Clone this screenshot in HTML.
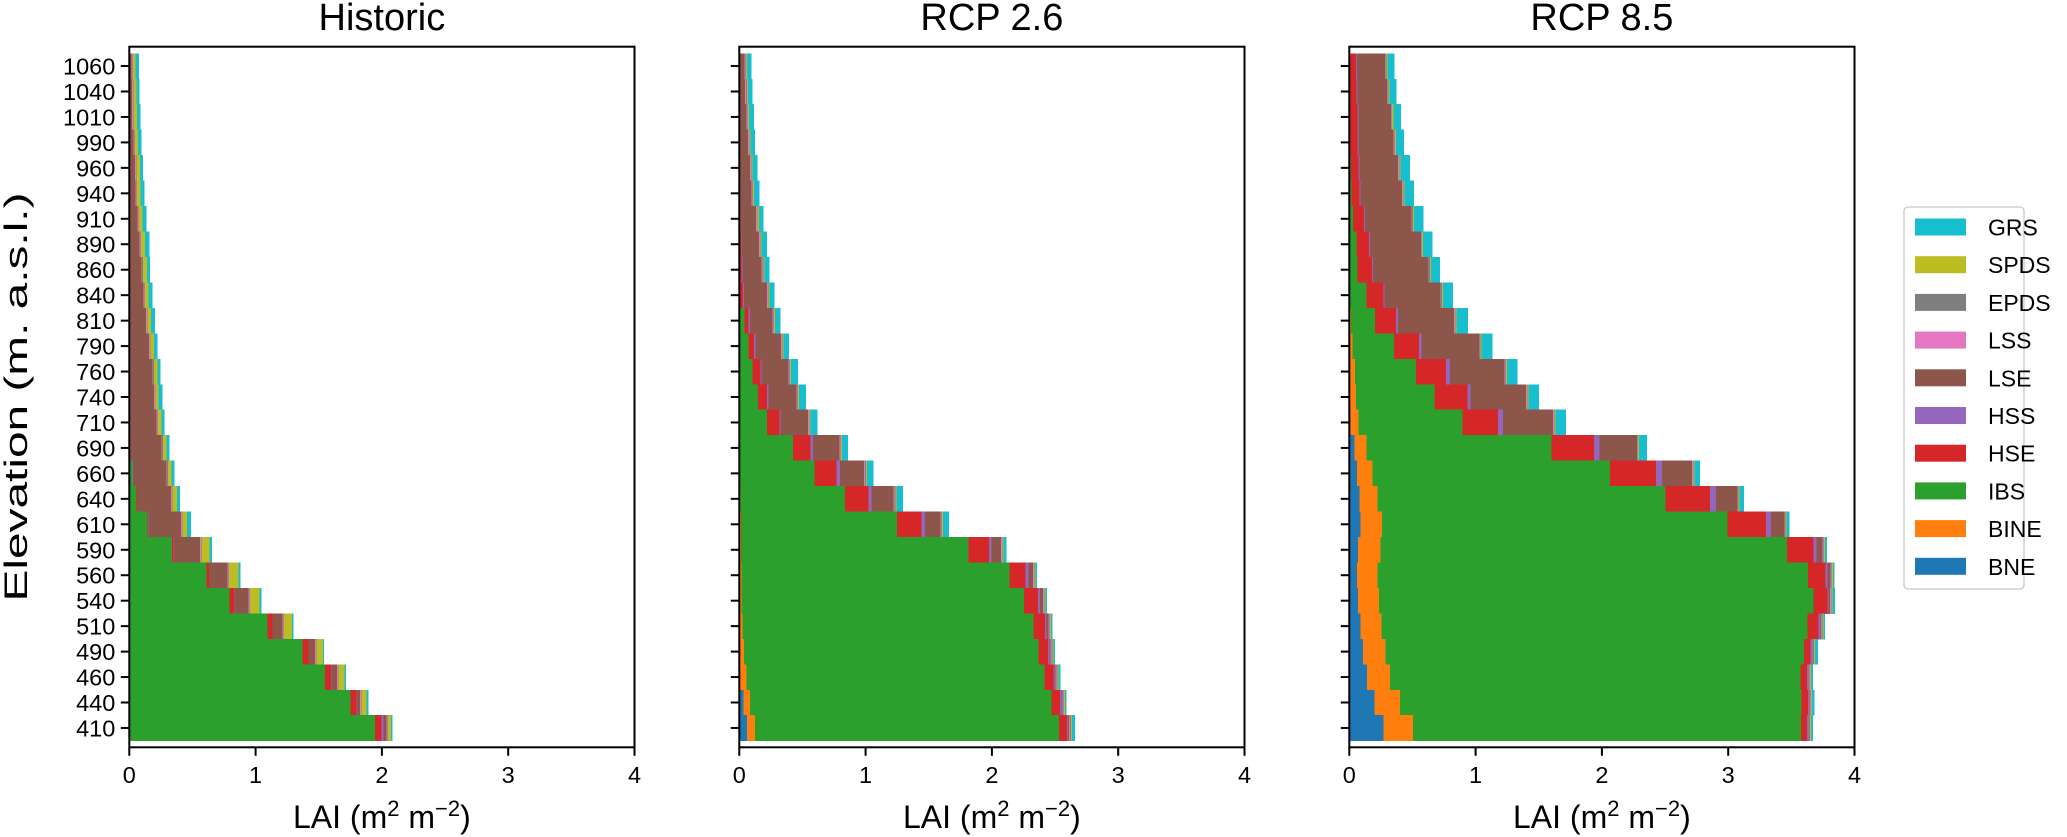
<!DOCTYPE html>
<html><head><meta charset="utf-8"><title>LAI by elevation</title>
<style>
html,body{margin:0;padding:0;background:#fff;}
svg{display:block;font-family:"Liberation Sans","DejaVu Sans",sans-serif;}
</style></head>
<body>
<svg id="chart" width="2067" height="837" viewBox="0 0 2067 837" xmlns="http://www.w3.org/2000/svg">
<text x="0" y="0" transform="translate(27,397) rotate(-90)" text-anchor="middle" font-size="32" textLength="409" lengthAdjust="spacingAndGlyphs">Elevation (m. a.s.l.)</text>
<g id="panels"></g>
<g id="legend"></g>
</svg>
<script>
const elevations = ["1060","1040","1010","990","960","940","910","890","860","840","810","790","760","740","710","690","660","640","610","590","560","540","510","490","460","440","410"];
const xTicks = [0,1,2,3,4];
const seriesNames = ["BNE","BINE","IBS","HSE","HSS","LSE","LSS","EPDS","SPDS","GRS"];
const seriesColors = ["#1f77b4","#ff7f0e","#2ca02c","#d62728","#9467bd","#8c564b","#e377c2","#7f7f7f","#bcbd22","#17becf"];
const panelTitles = ["Historic","RCP 2.6","RCP 8.5"];

// Historic
const H_BNE = [0,0,0,0,0,0,0,0,0,0,0,0,0,0,0,0,0,0,0,0,0,0,0,0,0,0,0];
const H_BINE = [0,0,0,0,0,0,0,0,0,0,0,0,0,0,0,0,0,0,0,0,0,0,0,0,0,0,0];
const H_IBS = [0,0,0,0,0,0,0,0,0,0,0,0,0,0,0,.005,.024,.058,.145,.34,.612,.792,1.095,1.372,1.549,1.752,1.945];
const H_HSE = [.002,.002,.002,.002,.002,.002,.002,.002,.002,.002,.002,.002,.002,.002,.002,.002,.002,.005,.005,.011,.018,.04,.037,.045,.047,.047,.053];
const H_HSS = [.003,.003,.003,.003,.003,.003,.003,.003,.003,.003,.003,.003,.003,.003,.003,.003,.003,.003,.003,.003,.003,.003,.003,.003,.003,.003,.016];
const H_LSE = [.013,.018,.018,.029,.04,.045,.061,.077,.09,.108,.127,.15,.177,.19,.211,.243,.264,.264,.256,.206,.145,.108,.079,.05,.045,.026,.024];
const H_LSS = [.007,.007,.007,.007,.007,.007,.007,.007,.007,.007,.007,.007,.007,.007,.007,.007,.007,.007,.007,.007,.007,.007,.007,.007,.007,.007,.007];
const H_EPDS = [.005,.005,.005,.005,.005,.005,.005,.005,.005,.005,.005,.005,.005,.005,.005,.005,.005,.005,.005,.005,.005,.005,.005,.005,.005,.005,.005];
const H_SPDS = [.021,.021,.024,.021,.026,.026,.026,.032,.032,.026,.026,.029,.029,.026,.026,.029,.029,.037,.037,.063,.074,.074,.061,.05,.047,.04,.024];
const H_GRS = [.026,.026,.029,.029,.026,.032,.032,.032,.026,.034,.032,.029,.026,.029,.026,.026,.024,.024,.032,.021,.018,.018,.013,.008,.011,.013,.011];

// RCP 2.6
const R26_BNE = [0,0,0,0,0,0,0,0,0,0,0,0,0,0,0,0,0,0,0,0,0,0,0,0,.005,.032,.061];
const R26_BINE = [0,0,0,0,0,0,0,0,0,0,0,0,0,0,0,.003,.005,.008,.013,.013,.016,.018,.024,.037,.053,.053,.063];
const R26_IBS = [0,0,0,0,0,0,0,0,0,.005,.04,.071,.103,.148,.219,.422,.591,.829,1.235,1.8,2.124,2.237,2.306,2.33,2.359,2.388,2.406];
const R26_HSE = [.003,.003,.003,.003,.003,.003,.011,.013,.016,.026,.032,.047,.063,.071,.098,.137,.174,.185,.195,.164,.127,.111,.09,.079,.069,.066,.063];
const R26_HSS = [.003,.003,.003,.003,.003,.005,.003,.005,.008,.008,.011,.011,.011,.011,.011,.021,.026,.026,.026,.021,.021,.013,.011,.011,.011,.011,.011];
const R26_LSE = [.034,.04,.05,.061,.077,.087,.119,.137,.153,.18,.179,.2,.211,.222,.216,.211,.193,.174,.124,.074,.037,.026,.016,.008,.008,.008,.008];
const R26_LSS = [.008,.008,.008,.008,.008,.008,.008,.008,.008,.008,.008,.008,.008,.008,.008,.008,.008,.008,.008,.008,.008,.008,.008,.008,.008,.008,.008];
const R26_EPDS = [.005,.005,.005,.005,.005,.005,.005,.005,.005,.005,.005,.005,.005,.005,.005,.005,.005,.005,.005,.005,.005,.005,.005,.005,.005,.005,.005];
const R26_SPDS = [.008,.008,.008,.008,.008,.008,.008,.008,.008,.008,.008,.008,.008,.008,.008,.008,.008,.008,.008,.008,.008,.008,.008,.008,.008,.008,.008];
const R26_GRS = [.034,.037,.04,.037,.042,.042,.037,.045,.04,.04,.045,.042,.055,.055,.053,.045,.053,.053,.045,.024,.013,.011,.013,.013,.016,.013,.024];

// RCP 8.5
const R85_BNE = [0,0,0,0,0,0,0,0,0,0,0,0,.003,.005,.008,.04,.06,.08,.09,.07,.06,.07,.09,.11,.14,.2,.27];
const R85_BINE = [0,0,0,0,0,0,0,0,0,.005,.013,.024,.042,.05,.063,.097,.124,.145,.168,.176,.163,.166,.163,.176,.184,.203,.234];
const R85_IBS = [0,0,0,.005,.013,.018,.029,.058,.066,.132,.192,.329,.482,.621,.826,1.463,1.882,2.279,2.737,3.218,3.408,3.439,3.374,3.313,3.25,3.176,3.071];
const R85_HSE = [.053,.058,.063,.061,.061,.063,.089,.097,.113,.132,.163,.197,.237,.258,.282,.339,.361,.353,.305,.211,.139,.113,.089,.053,.05,.053,.047];
const R85_HSS = [.008,.008,.008,.008,.008,.008,.008,.008,.008,.008,.016,.021,.032,.026,.037,.042,.05,.047,.039,.026,.016,.008,.013,.01,.008,.008,.008];
const R85_LSE = [.221,.232,.258,.276,.305,.329,.366,.403,.439,.445,.445,.458,.434,.439,.397,.295,.237,.168,.105,.047,.024,.011,.005,.005,.005,.005,.005];
const R85_LSS = [.006,.006,.006,.006,.006,.006,.006,.006,.006,.006,.006,.006,.006,.006,.006,.006,.006,.006,.006,.006,.006,.006,.006,.006,.006,.006,.006];
const R85_EPDS = [.005,.005,.005,.005,.005,.005,.005,.005,.005,.005,.005,.005,.005,.005,.005,.005,.005,.005,.005,.005,.005,.005,.005,.005,.005,.005,.005];
const R85_SPDS = [.008,.008,.008,.008,.008,.008,.008,.008,.008,.008,.008,.008,.008,.008,.008,.008,.008,.008,.008,.008,.008,.008,.008,.008,.008,.008,.008];
const R85_GRS = [.058,.058,.063,.066,.074,.074,.076,.074,.074,.079,.092,.084,.084,.082,.084,.061,.045,.034,.024,.016,.013,.021,.013,.024,.016,.018,.018];

const panelSeries = [
  [H_BNE,H_BINE,H_IBS,H_HSE,H_HSS,H_LSE,H_LSS,H_EPDS,H_SPDS,H_GRS],
  [R26_BNE,R26_BINE,R26_IBS,R26_HSE,R26_HSS,R26_LSE,R26_LSS,R26_EPDS,R26_SPDS,R26_GRS],
  [R85_BNE,R85_BINE,R85_IBS,R85_HSE,R85_HSS,R85_LSE,R85_LSS,R85_EPDS,R85_SPDS,R85_GRS]
];

const NS = "http://www.w3.org/2000/svg";
function mk(tag, attrs, parent){
  const e = document.createElementNS(NS, tag);
  for (const k in attrs) e.setAttribute(k, attrs[k]);
  parent.appendChild(e);
  return e;
}
const AX_TOP = 46.7, AX_BOT = 747.3, AX_W = 505.2, X_MAX = 4;
const panelLeft = [129.3, 739.3, 1349.3];
const nRows = elevations.length;
const pad = 6.6;
const rowH = (AX_BOT - AX_TOP - 2*pad) / nRows;
function yTop(i){ return AX_TOP + pad + i*rowH; }
function yMid(i){ return yTop(i) + rowH/2; }

const panelsG = document.getElementById('panels');
panelTitles.forEach((title, p) => {
  const x0 = panelLeft[p];
  const xs = v => x0 + v / X_MAX * AX_W;
  const g = mk('g', {}, panelsG);
  
  
  const bars = mk('g', {'shape-rendering':'crispEdges'}, g);
  
  
  for (let i = 0; i < nRows; i++) {
    let cum = 0;
    panelSeries[p].forEach((arr, s) => {
      const v = arr[i];
      if (v > 0) {
        const r = mk('rect', {x: xs(cum), y: yTop(i), width: xs(cum+v) - xs(cum), height: rowH + 0.4, fill: seriesColors[s]}, bars);
        
        
      }
      cum += v;
    });
  }
  const fr = mk('rect', {x: x0, y: AX_TOP, width: AX_W, height: AX_BOT-AX_TOP, fill:'none', stroke:'#000', 'stroke-width':2}, g);
  
  
  for (let i = 0; i < nRows; i++) {
    const t = mk('line', {x1: x0-8.5, x2: x0, y1: yMid(i), y2: yMid(i), stroke:'#000', 'stroke-width':2}, g);
    
    
    if (p === 0) {
      const lb = mk('text', {x: x0-14, y: yMid(i)+8.5, 'text-anchor':'end', 'font-size':23.5}, g);
      
      
      lb.textContent = elevations[i];
    }
  }
  xTicks.forEach(v => {
    const t = mk('line', {x1: xs(v), x2: xs(v), y1: AX_BOT, y2: AX_BOT+8.5, stroke:'#000', 'stroke-width':2}, g);
    
    
    const lb = mk('text', {x: xs(v), y: 783, 'text-anchor':'middle', 'font-size':23.5}, g);
    
    
    lb.textContent = String(v);
  });
  const tt = mk('text', {x: x0 + AX_W/2, y: 30, 'text-anchor':'middle', 'font-size':38}, g);
  
  
  tt.textContent = title;
  const xl = mk('text', {x: x0 + AX_W/2, y: 828, 'text-anchor':'middle', 'font-size':32}, g);
  
  
  xl.innerHTML = 'LAI (m<tspan dy="-12" font-size="22">2</tspan><tspan dy="12"> m</tspan><tspan dy="-12" font-size="22">−2</tspan><tspan dy="12">)</tspan>';
});

const lg = document.getElementById('legend');
const box = mk('rect', {x:1904, y:207, width:120, height:382, rx:4, fill:'#fff', stroke:'#d0d0d0', 'stroke-width':1.5}, lg);


for (let k = 0; k < seriesNames.length; k++) {
  const s = seriesNames.length - 1 - k;
  const cy = 227 + k*37.7;
  const e = mk('g', {}, lg);
  
  
  mk('rect', {x:1915, y:cy-8.5, width:51, height:17, fill:seriesColors[s]}, e);
  const t = mk('text', {x:1988, y:cy+8.5, 'font-size':23}, e);
  t.textContent = seriesNames[s];
}
</script>
</body></html>
